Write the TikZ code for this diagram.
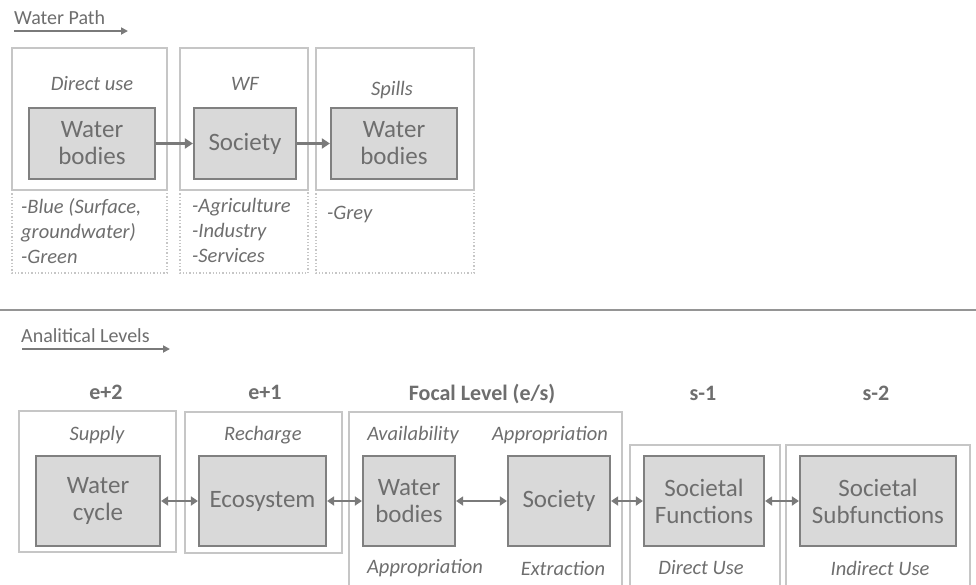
\documentclass[tikz,border=0pt]{standalone}
\usepackage{fontspec}
\setmainfont{Carlito}
\usetikzlibrary{arrows.meta}
\definecolor{txt}{HTML}{6E6E6E}
\definecolor{inner}{HTML}{D9D9D9}
\definecolor{innerline}{HTML}{808080}
\definecolor{outerline}{HTML}{C6C6C6}
\definecolor{arr}{HTML}{7A7A7A}
\tikzset{
  innerbox/.style={draw=innerline, line width=2.2pt, fill=inner, text=txt, align=center,
    font=\fontsize{25}{27}\selectfont, inner sep=0pt},
  outerbox/.style={draw=outerline, line width=1.5pt},
  dotbox/.style={draw=outerline, line width=1.3pt, dotted},
  lbl/.style={text=txt, font=\fontsize{20.5}{22}\selectfont\itshape, inner sep=0pt},
  lvl/.style={text=txt, font=\fontsize{22}{24}\selectfont\bfseries, inner sep=0pt},
  ttl/.style={text=txt, font=\fontsize{20}{22}\selectfont, inner sep=0pt, anchor=west},
  lst/.style={text=txt, font=\fontsize{20.5}{25}\selectfont\itshape, inner sep=0pt, anchor=north west, align=left},
  flow/.style={draw=arr, line width=2.8pt, -{Triangle[length=8pt,width=10pt]}},
  both/.style={draw=arr, line width=2.8pt, {Triangle[length=7pt,width=9pt]}-{Triangle[length=7pt,width=9pt]}},
  uline/.style={draw=arr, line width=1.8pt, -{Triangle[length=7pt,width=7pt]}}
}
\begin{document}
\begin{tikzpicture}[x=1pt,y=-1pt]
\useasboundingbox[fill=white] (0,0) rectangle (976,584);

% ---------- Water path ----------
\node[ttl] (wpt) at (14,18) {Water Path};
\coordinate (wpa) at (14,31);
\coordinate (wpb) at (128,31);
\draw[uline] (wpa) -- (wpb);

\draw[outerbox] (12,48) rectangle (167,190);
\draw[outerbox] (180,48) rectangle (308,190);
\draw[outerbox] (316,48) rectangle (474,190);
\draw[dotbox] (12,190) rectangle (167,273);
\draw[dotbox] (180,190) rectangle (308,273);
\draw[dotbox] (316,190) rectangle (474,273);

\node[lbl] (du) at (92,84) {Direct use};
\node[lbl] (wf) at (245,84) {WF};
\node[lbl] (sp) at (392,90) {Spills};

\node[innerbox, minimum width=126pt, minimum height=71pt] (wb1) at (92,143.5) {Water\\bodies};
\node[innerbox, minimum width=102pt, minimum height=71pt] (soc1) at (245,143.5) {Society};
\node[innerbox, minimum width=126pt, minimum height=71pt] (wb2) at (394,143.5) {Water\\bodies};

\draw[flow] (wb1) -- (soc1);
\draw[flow] (soc1) -- (wb2);

\node[lst] (l1) at (21,198.5) {-Blue (Surface,\\groundwater)\\-Green};
\node[lst] (l2) at (192,198.5) {-Agriculture\\-Industry\\-Services};
\node[lst] (l3) at (327,205.5) {-Grey};

% ---------- separator ----------
\coordinate (sepa) at (0,310);
\coordinate (sepb) at (976,310);
\draw[draw=arr!80, line width=1.3pt] (sepa) -- (sepb);

% ---------- Analytical levels ----------
\node[ttl] (alt) at (21,336) {Analitical Levels};
\coordinate (ala) at (22,349);
\coordinate (alb) at (170,349);
\draw[uline] (ala) -- (alb);

\node[lvl] (e2) at (106,392) {e+2};
\node[lvl] (e1) at (265,392) {e+1};
\node[lvl] (fl) at (482,394) {Focal Level (e/s)};
\node[lvl] (s1) at (703,393) {s-1};
\node[lvl] (s2) at (876,393) {s-2};

\draw[outerbox] (19,411) rectangle (176,552);
\draw[outerbox] (185,412) rectangle (342,553);
\draw[outerbox] (349,590) -- (349,412) -- (622,412) -- (622,590);
\draw[outerbox] (630,590) -- (630,445) -- (780,445) -- (780,590);
\draw[outerbox] (786,590) -- (786,445) -- (970,445) -- (970,590);

\node[lbl] (sup) at (97,435) {Supply};
\node[lbl] (rec) at (263,435) {Recharge};
\node[lbl] (av) at (413,435) {Availability};
\node[lbl] (ap1) at (550,435) {Appropriation};
\node[lbl] (ap2) at (425,568) {Appropriation};
\node[lbl] (ex) at (563,568) {Extraction};
\node[lbl] (du2) at (701,568) {Direct Use};
\node[lbl] (iu) at (880,568) {Indirect Use};

\node[innerbox, minimum width=124pt, minimum height=90pt] (wc) at (98,501) {Water\\cycle};
\node[innerbox, minimum width=127pt, minimum height=90pt] (eco) at (262.5,501) {Ecosystem};
\node[innerbox, minimum width=92pt, minimum height=90pt] (wb3) at (409,501) {Water\\bodies};
\node[innerbox, minimum width=102pt, minimum height=90pt] (soc2) at (559,501) {Society};
\node[innerbox, minimum width=120pt, minimum height=90pt] (sf) at (704,501) {Societal\\Functions};
\node[innerbox, minimum width=156pt, minimum height=90pt] (ssf) at (878,501) {Societal\\Subfunctions};

\draw[both] (wc) -- (eco);
\draw[both] (eco) -- (wb3);
\draw[both] (wb3) -- (soc2);
\draw[both] (soc2) -- (sf);
\draw[both] (sf) -- (ssf);
\end{tikzpicture}
\end{document}
